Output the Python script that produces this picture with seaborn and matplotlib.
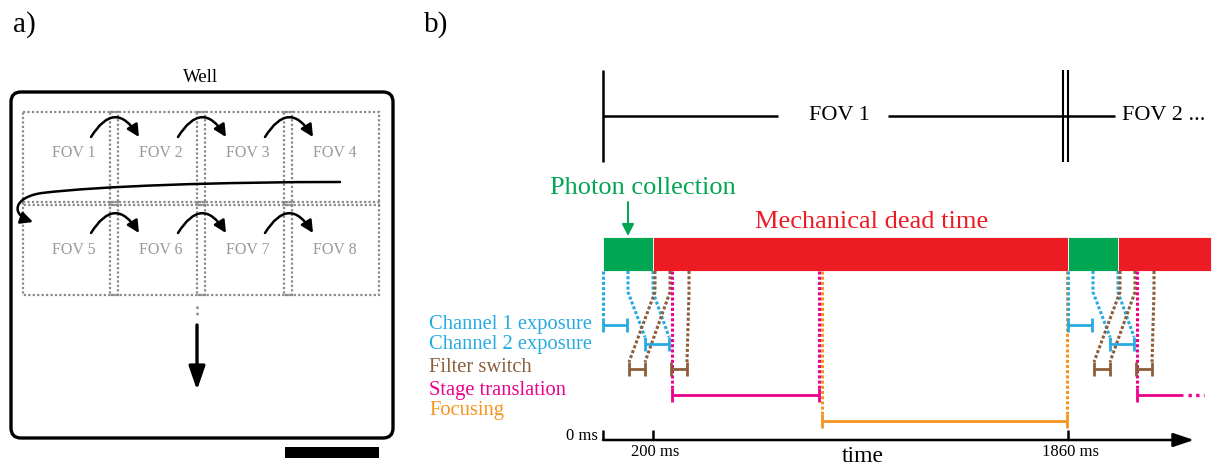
import matplotlib
matplotlib.use("Agg")
import matplotlib.pyplot as plt
from matplotlib.patches import FancyBboxPatch, Rectangle, FancyArrowPatch
from matplotlib.path import Path
import seaborn as sns

sns.set_theme(style="white")
plt.rcParams["font.family"] = ["Liberation Serif", "DejaVu Serif"]

# ---------------- panel a: field-of-view order inside a well ----------------
fov_labels = ["FOV 1", "FOV 2", "FOV 3", "FOV 4", "FOV 5", "FOV 6", "FOV 7", "FOV 8"]
n_cols = 4
n_rows = 2

# ---------------- panel b: timing of one acquisition cycle (ms) -------------
cycle_ms = 1860
axis_ticks_ms = [0, 200, 1860]
axis_tick_labels = ["0 ms", "200 ms", "1860 ms"]

# coloured bar: photon collection vs. mechanical dead time
bar_start_ms = [0, 200, 1860, 2060]
bar_end_ms = [200, 1860, 2060, 2432]
bar_kind = ["photon", "dead", "photon", "dead"]

# rows of the timing chart
phase_keys = ["ch1", "ch2", "filter", "stage", "focus"]
phase_names = ["Channel 1 exposure", "Channel 2 exposure", "Filter switch",
               "Stage translation", "Focusing"]

# interval brackets of the first cycle
bracket_phase = ["ch1", "filter", "ch2", "filter", "stage", "focus"]
bracket_start_ms = [0, 104, 168, 272, 276, 876]
bracket_end_ms = [96, 168, 264, 336, 864, 1856]

# dotted links from the bar down to the brackets of the first cycle
link_phase = ["ch1", "ch2", "ch2", "filter", "filter", "filter", "stage", "stage", "focus", "focus"]
link_bar_ms = [0, 100, 200, 208, 268, 344, 276, 864, 876, 1856]
link_row_ms = [0, 168, 264, 104, 168, 336, 276, 864, 876, 1856]

colors = {
    "photon": "#00A651", "dead": "#ED1C24",
    "ch1": "#27AAE1", "ch2": "#27AAE1", "filter": "#8B5E3C",
    "stage": "#EC008C", "focus": "#F7941D",
}

W, H = 1222, 468
fig = plt.figure(figsize=(W / 100, H / 100), dpi=100)
fig.patch.set_facecolor("white")

# ======================= panel a =======================
ax_a = fig.add_axes([0, 0, 420 / W, 1])
ax_a.set_xlim(0, 420)
ax_a.set_ylim(H, 0)
ax_a.axis("off")

ax_a.text(24, 25, "a)", ha="center", va="center", size=21, color="black")
ax_a.text(201, 78, "Well", ha="center", va="center", size=13.5, color="black")

well = FancyBboxPatch((11, 92), 382, 346, boxstyle="round,pad=0,rounding_size=10",
                      fc="none", ec="black", lw=2.4)
ax_a.add_patch(well)

col_left0, col_pitch, fov_w = 23, 87, 95
row_top0, row_pitch, fov_h = 112, 90, 93
label_y = [153, 250]
grid_grey = "#8a8a8a"
for r in range(n_rows):
    for c in range(n_cols):
        x0 = col_left0 + c * col_pitch
        y0 = row_top0 + r * row_pitch
        ax_a.add_patch(Rectangle((x0, y0), fov_w, fov_h, fill=False, ec=grid_grey,
                                 lw=1.6, ls=(0, (1, 1.0))))
        ax_a.text(x0 + fov_w / 2 + 3, label_y[r], fov_labels[r * n_cols + c],
                  ha="center", va="center", size=11.5, color="#999999")

# hops between neighbouring fields
arc_y = [137, 233]
for r in range(n_rows):
    for c in range(n_cols - 1):
        xs = col_left0 + c * col_pitch + 68
        a = FancyArrowPatch((xs, arc_y[r]), (xs + 48, arc_y[r]),
                            connectionstyle="arc3,rad=-0.8",
                            arrowstyle="-|>,head_length=0.6,head_width=0.3",
                            mutation_scale=12, lw=1.8, color="black",
                            shrinkA=0, shrinkB=0)
        ax_a.add_patch(a)

# return sweep to the next row
verts = [(340, 182), (220, 182), (100, 186), (42, 193),
         (14, 197), (10, 214), (33, 222)]
codes = [Path.MOVETO, Path.CURVE4, Path.CURVE4, Path.CURVE4,
         Path.CURVE4, Path.CURVE4, Path.CURVE4]
sweep = FancyArrowPatch(path=Path(verts, codes),
                        arrowstyle="-|>,head_length=0.6,head_width=0.3",
                        mutation_scale=12, lw=1.8, color="black")
ax_a.add_patch(sweep)

# continuation downwards
ax_a.plot([197, 197], [306, 318], color=grid_grey, lw=1.8, ls=(0, (1, 1.5)))
ax_a.annotate("", xy=(197, 390), xytext=(197, 325),
              arrowprops=dict(arrowstyle="-|>,head_length=1.3,head_width=0.45",
                              mutation_scale=11, lw=2.4, color="black",
                              shrinkA=0, shrinkB=0))

# scale bar
ax_a.add_patch(Rectangle((285, 447), 94, 11, color="black", lw=0))

# ======================= panel b =======================
px_per_ms = 0.25
t0_px = 603
ax_b = fig.add_axes([420 / W, 0, (W - 420) / W, 1])
ax_b.set_xlim((420 - t0_px) / px_per_ms, (W - t0_px) / px_per_ms)
ax_b.set_ylim(H, 0)
ax_b.axis("off")

ax_b.text(-668, 25, "b)", ha="center", va="center", size=21, color="black")

# field-of-view timeline
ax_b.vlines(0, 70, 162, color="black", lw=1.8)
ax_b.vlines([cycle_ms - 20, cycle_ms], 70, 162, color="black", lw=1.5)
ax_b.hlines(116, 0, 700, color="black", lw=1.8)
ax_b.hlines(116, 1140, cycle_ms + 188, color="black", lw=1.8)
ax_b.text(944, 116, "FOV 1", ha="center", va="center", size=16, color="black")
ax_b.text(2076, 116, "FOV 2 ...", ha="left", va="center", size=16, color="black")

# photon collection / dead time bar
bar_y, bar_h = 254, 34
ax_b.barh([bar_y] * len(bar_start_ms),
          [e - s for s, e in zip(bar_start_ms, bar_end_ms)],
          left=bar_start_ms, height=bar_h,
          color=[colors[k] for k in bar_kind], edgecolor="white", linewidth=0.6)
bar_bottom = bar_y + bar_h / 2

ax_b.text(160, 188, "Photon collection", ha="center", va="center", size=19,
          color=colors["photon"])
ax_b.annotate("", xy=(100, bar_y - bar_h / 2 - 1), xytext=(100, 202),
              arrowprops=dict(arrowstyle="-|>,head_length=0.55,head_width=0.28",
                              mutation_scale=13, lw=1.4, color=colors["photon"],
                              shrinkA=0, shrinkB=0))
ax_b.text(1076, 222, "Mechanical dead time", ha="center", va="center", size=19,
          color=colors["dead"])

# rows
row_y = {"ch1": 325, "ch2": 344, "filter": 369, "stage": 395, "focus": 421}
text_y = [325, 345, 368, 390, 411]
for name, key, ty in zip(phase_names, phase_keys, text_y):
    ax_b.text(-696, ty, name, ha="left", va="center", size=14.8, color=colors[key])

tick_half = 7
knee_y = 292
dotted = (0, (1, 0.7))


def bracket(start, end, key, left_tick=True, right_tick=True):
    y = row_y[key]
    ax_b.hlines(y, start, end, color=colors[key], lw=2)
    ticks = [t for t, on in ((start, left_tick), (end, right_tick)) if on]
    ax_b.vlines(ticks, y - tick_half, y + tick_half, color=colors[key], lw=2)


def link(bar_ms, row_ms, key):
    y_end = row_y[key] - tick_half
    if bar_ms == row_ms:
        xs, ys = [bar_ms, row_ms], [bar_bottom, y_end]
    else:
        xs, ys = [bar_ms, bar_ms, row_ms], [bar_bottom, knee_y, y_end]
    ax_b.plot(xs, ys, color=colors[key], lw=2.2, ls=dotted,
              solid_capstyle="butt", dash_capstyle="butt")


# first cycle, then the start of the next one
for cycle, limit in ((0, 10 ** 6), (1, 400)):
    off = cycle * cycle_ms
    for key, b_ms, r_ms in zip(link_phase, link_bar_ms, link_row_ms):
        if b_ms < limit:
            link(b_ms + off, r_ms + off, key)
    for key, s, e in zip(bracket_phase, bracket_start_ms, bracket_end_ms):
        if cycle == 0:
            bracket(s, e, key)
        elif key != "focus":
            if key == "stage":
                bracket(s + off, 2320, key, right_tick=False)
                ax_b.plot([2338, 2404], [row_y[key]] * 2, color=colors[key],
                          lw=2.4, ls=(0, (1, 1.3)))
            else:
                bracket(s + off, e + off, key)

# time axis
axis_y = 440
ax_b.annotate("", xy=(2364, axis_y), xytext=(0, axis_y),
              arrowprops=dict(arrowstyle="-|>,head_length=0.9,head_width=0.3",
                              mutation_scale=14, lw=1.8, color="black",
                              shrinkA=0, shrinkB=0))
ax_b.vlines(axis_ticks_ms, axis_y - 10, axis_y, color="black", lw=1.8)
ax_b.text(axis_ticks_ms[0] - 20, axis_y - 4, axis_tick_labels[0], ha="right",
          va="center", size=12, color="black")
for t, lab in zip(axis_ticks_ms[1:], axis_tick_labels[1:]):
    ax_b.text(t + 8, 452, lab, ha="center", va="center", size=12, color="black")
ax_b.text(1040, 457, "time", ha="center", va="center", size=17, color="black")

fig.savefig("out.png", dpi=100)
